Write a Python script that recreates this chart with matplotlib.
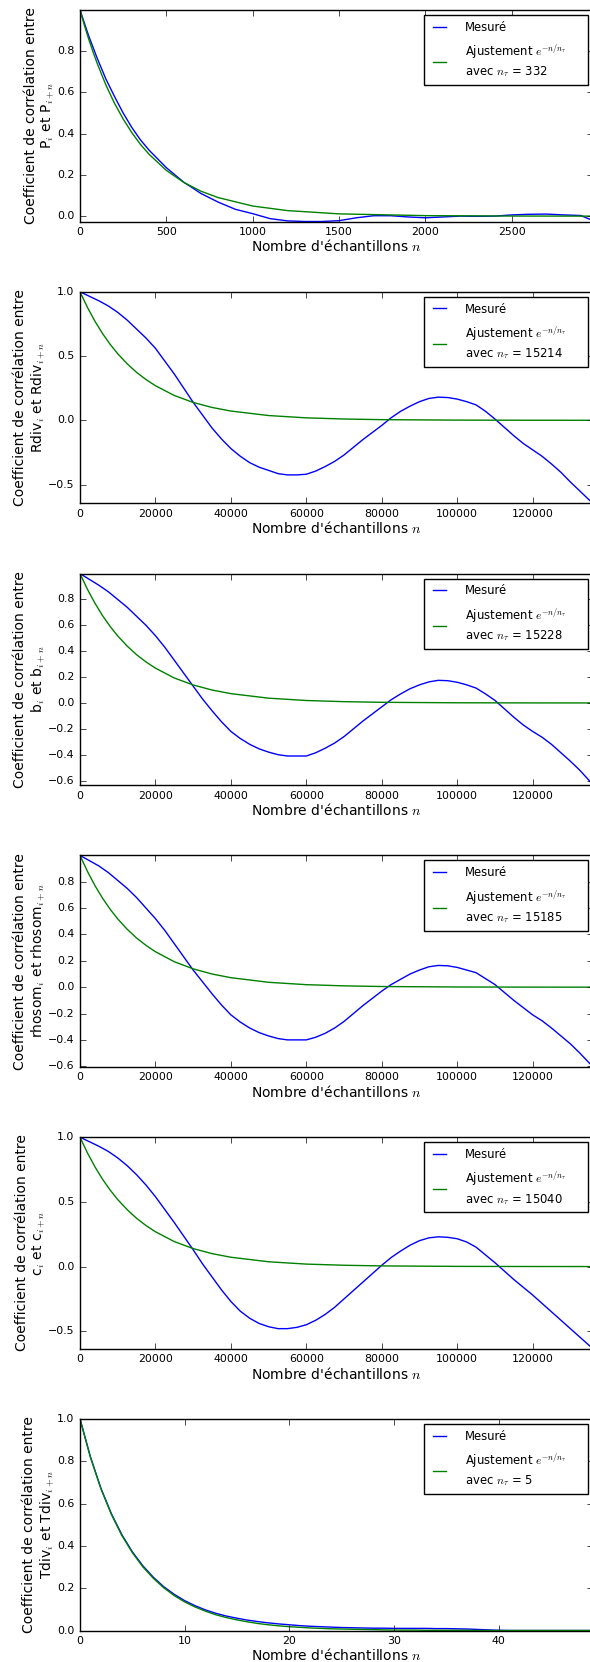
import matplotlib

matplotlib.use("Agg")
import matplotlib.pyplot as plt

# Plot 1 : P
lags_p = [0, 50, 100, 150, 200, 250, 300, 350, 400, 500, 600, 650, 700, 800, 900,
          1000, 1100, 1200, 1300, 1400, 1500, 1600, 1700, 1800, 1900, 2000, 2100,
          2200, 2300, 2400, 2500, 2600, 2700, 2800, 2900, 2970]
mesure_p = [1.0, 0.875, 0.765, 0.665, 0.58, 0.50, 0.43, 0.37, 0.32, 0.235, 0.165,
            0.138, 0.11, 0.068, 0.033, 0.012, -0.012, -0.023, -0.026, -0.026, -0.022,
            -0.008, 0.002, 0.002, -0.004, -0.008, -0.004, 0.0, -0.001, 0.0, 0.006,
            0.009, 0.01, 0.006, 0.003, -0.022]
fit_lags_p = [0, 25, 50, 75, 100, 150, 200, 250, 300, 350, 400, 500, 600, 700, 800,
              1000, 1200, 1500, 2000, 2500, 2970]
fit_p = [1.0, 0.927, 0.860, 0.798, 0.740, 0.636, 0.547, 0.471, 0.405, 0.348, 0.300,
         0.222, 0.164, 0.121, 0.090, 0.049, 0.027, 0.011, 0.0024, 0.0005, 0.0001]

# Plots 2 to 5 : Rdiv, b, rhosom, c  (one value every 2500 lags, then the last lag)
lags_long = list(range(0, 135001, 2500)) + [136000]
mesure_rdiv = [1.0, 0.965, 0.93, 0.89, 0.84, 0.78, 0.71, 0.64, 0.56, 0.46,
               0.36, 0.25, 0.14, 0.04, -0.06, -0.145, -0.22, -0.28, -0.33, -0.365,
               -0.39, -0.415, -0.425, -0.425, -0.42, -0.395, -0.36, -0.32, -0.27, -0.21,
               -0.15, -0.095, -0.04, 0.02, 0.07, 0.11, 0.145, 0.17, 0.18, 0.177,
               0.165, 0.145, 0.12, 0.07, 0.01, -0.055, -0.12, -0.18, -0.23, -0.28,
               -0.34, -0.405, -0.48, -0.55, -0.62, -0.646]
mesure_b = [1.0, 0.955, 0.91, 0.86, 0.80, 0.74, 0.67, 0.60, 0.52, 0.43,
            0.33, 0.23, 0.13, 0.03, -0.06, -0.145, -0.22, -0.275, -0.32, -0.355,
            -0.38, -0.40, -0.41, -0.41, -0.41, -0.385, -0.35, -0.31, -0.26, -0.20,
            -0.14, -0.085, -0.03, 0.025, 0.07, 0.11, 0.14, 0.163, 0.175, 0.172,
            0.16, 0.14, 0.115, 0.07, 0.02, -0.045, -0.11, -0.17, -0.22, -0.265,
            -0.32, -0.385, -0.45, -0.52, -0.60, -0.635]
mesure_rhosom = [1.0, 0.96, 0.92, 0.87, 0.81, 0.75, 0.68, 0.60, 0.52, 0.43,
                 0.33, 0.23, 0.13, 0.04, -0.05, -0.135, -0.21, -0.265, -0.31, -0.345,
                 -0.37, -0.39, -0.40, -0.40, -0.40, -0.38, -0.35, -0.31, -0.26, -0.20,
                 -0.14, -0.085, -0.03, 0.02, 0.06, 0.10, 0.13, 0.155, 0.165, 0.162,
                 0.15, 0.13, 0.11, 0.065, 0.02, -0.04, -0.10, -0.155, -0.21, -0.255,
                 -0.31, -0.37, -0.43, -0.50, -0.575, -0.605]
mesure_c = [1.0, 0.965, 0.93, 0.89, 0.84, 0.78, 0.71, 0.63, 0.54, 0.44,
            0.34, 0.235, 0.13, 0.02, -0.08, -0.18, -0.27, -0.345, -0.40, -0.44,
            -0.465, -0.48, -0.48, -0.47, -0.45, -0.415, -0.37, -0.315, -0.25, -0.185,
            -0.12, -0.055, 0.01, 0.07, 0.12, 0.165, 0.20, 0.222, 0.23, 0.226,
            0.215, 0.19, 0.15, 0.09, 0.03, -0.035, -0.10, -0.16, -0.22, -0.285,
            -0.35, -0.415, -0.48, -0.545, -0.61, -0.635]
fit_lags_long = [0, 2000, 4000, 6000, 8000, 10000, 12500, 15000, 17500, 20000, 25000,
                 30000, 35000, 40000, 50000, 60000, 70000, 80000, 100000, 120000, 136000]
fit_long = [1.0, 0.877, 0.769, 0.674, 0.591, 0.518, 0.440, 0.373, 0.317, 0.269, 0.193,
            0.139, 0.100, 0.072, 0.037, 0.019, 0.010, 0.005, 0.0014, 0.0004, 0.0001]

# Plot 6 : Tdiv
lags_tdiv = list(range(50))
mesure_tdiv = [1.0, 0.82, 0.672, 0.552, 0.453, 0.372, 0.306, 0.252, 0.207, 0.171,
               0.141, 0.117, 0.097, 0.081, 0.068, 0.058, 0.049, 0.042, 0.036, 0.031,
               0.027, 0.023, 0.020, 0.018, 0.016, 0.014, 0.013, 0.012, 0.011, 0.011,
               0.010, 0.010, 0.010, 0.010, 0.009, 0.009, 0.008, 0.007, 0.005, 0.003,
               0.001, 0.0, 0.0, 0.0, 0.0, 0.0, 0.0, 0.0, 0.0, 0.0]
fit_tdiv = [1.0, 0.819, 0.670, 0.549, 0.449, 0.368, 0.301, 0.247, 0.202, 0.165,
            0.135, 0.111, 0.091, 0.074, 0.061, 0.050, 0.041, 0.033, 0.027, 0.022,
            0.018, 0.015, 0.012, 0.010, 0.008, 0.007, 0.006, 0.005, 0.004, 0.003,
            0.002, 0.002, 0.002, 0.001, 0.001, 0.001, 0.001, 0.001, 0.0, 0.0,
            0.0, 0.0, 0.0, 0.0, 0.0, 0.0, 0.0, 0.0, 0.0, 0.0]

names = ["P", "Rdiv", "b", "rhosom", "c", "Tdiv"]
n_tau = [332, 15214, 15228, 15185, 15040, 5]
xtick_step = [500, 20000, 20000, 20000, 20000, 10]
yticks = [
    [0.0, 0.2, 0.4, 0.6, 0.8],
    [-0.5, 0.0, 0.5, 1.0],
    [-0.6, -0.4, -0.2, 0.0, 0.2, 0.4, 0.6, 0.8],
    [-0.6, -0.4, -0.2, 0.0, 0.2, 0.4, 0.6, 0.8],
    [-0.5, 0.0, 0.5, 1.0],
    [0.0, 0.2, 0.4, 0.6, 0.8, 1.0],
]

W, H = 590, 1662


def panel(ax, lags, mesure, fit_lags, fit, name, tau, step, ticks):
    ax.plot(lags, mesure, "b-", label="Mesuré")
    # trailing spaces: the old legend box had a wide right margin
    ax.plot(fit_lags, fit, "g-",
            label="Ajustement $e^{-n/n_\\tau}$     \navec $n_\\tau$ = %d" % tau)
    ax.set_xlim(0, lags[-1])
    ax.set_ylim(min(mesure), 1.0)
    ax.set_xticks(range(0, int(lags[-1]) + 1, step))
    ax.set_yticks(ticks)
    ax.tick_params(labelsize=7.9)
    ax.set_xlabel("Nombre d'échantillons $n$", fontsize=10, labelpad=1)
    ax.set_ylabel("Coefficient de corrélation entre\n%s$_i$ et %s$_{i+n}$" % (name, name),
                  fontsize=10, labelpad=0)
    ax.legend(loc="upper right", fontsize=8.4, borderaxespad=0.42, borderpad=0.5,
              labelspacing=0.8, handlelength=1.7, handletextpad=1.3)


if __name__ == "__main__":
    plt.style.use("classic")
    fig = plt.figure(figsize=(W / 100, H / 100), dpi=100, facecolor="white")

    data = [
        (lags_p, mesure_p, fit_lags_p, fit_p),
        (lags_long, mesure_rdiv, fit_lags_long, fit_long),
        (lags_long, mesure_b, fit_lags_long, fit_long),
        (lags_long, mesure_rhosom, fit_lags_long, fit_long),
        (lags_long, mesure_c, fit_lags_long, fit_long),
        (lags_tdiv, mesure_tdiv, lags_tdiv, fit_tdiv),
    ]
    left, right, h = 80, 593, 211.5
    for i, (lags, mesure, fit_lags, fit) in enumerate(data):
        top = 10 + 281.8 * i
        ax = fig.add_axes([left / W, 1 - (top + h) / H, (right - left) / W, h / H])
        panel(ax, lags, mesure, fit_lags, fit, names[i], n_tau[i], xtick_step[i], yticks[i])

    fig.savefig("out.png", dpi=100, facecolor="white")
